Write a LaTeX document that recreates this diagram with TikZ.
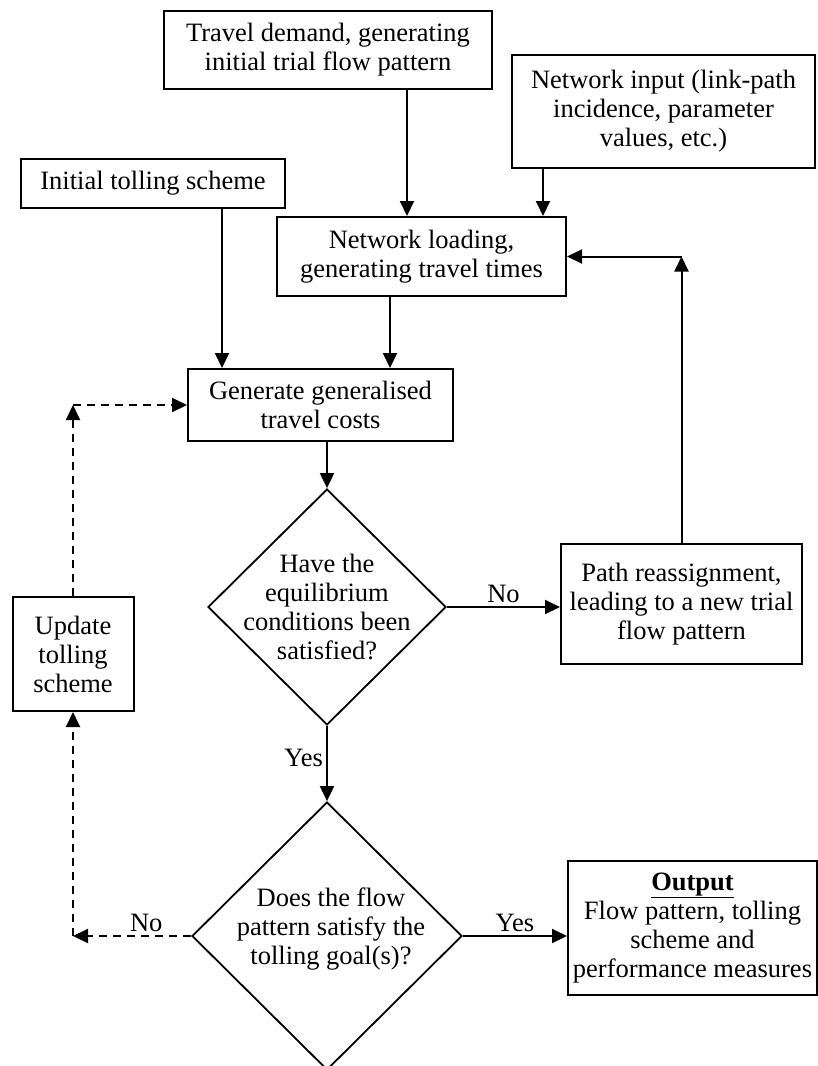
\documentclass[tikz,border=0pt]{standalone}
\usepackage{fontspec}
\setmainfont{Liberation Serif}
\usetikzlibrary{shapes.geometric,arrows.meta,calc}
\newcommand{\fsz}{\fontsize{26.5}{29}\selectfont}
\begin{document}
\begin{tikzpicture}[x=1pt,y=-1pt,
  box/.style={draw, line width=2pt, align=center, inner sep=0pt, font=\fsz},
  dia/.style={draw, shape=diamond, aspect=1, inner sep=0pt, line width=1.8pt},
  txt/.style={align=center, inner sep=0pt, font=\fsz},
  lbl/.style={font=\fsz, inner sep=3pt},
  conn/.style={line width=2pt},
  arr/.style={conn, -{Triangle[length=15pt,width=14pt]}},
  darr/.style={arr, dash pattern=on 8pt off 6pt}]
\fill[white] (0,0) rectangle (817,1066);
\useasboundingbox (0,0) rectangle (817,1066);

\node[box, minimum width=328pt, minimum height=78pt] (dem) at (328,50) {Travel demand, generating\\initial trial flow pattern};
\node[box, minimum width=303pt, minimum height=113pt] (inp) at (663.5,111.5) {Network input (link-path\\incidence, parameter\\values, etc.)};
\node[box, minimum width=264pt, minimum height=49pt] (init) at (153,183.5) {Initial tolling scheme};
\node[box, minimum width=289pt, minimum height=79pt] (load) at (421.5,256.5) {Network loading,\\generating travel times};
\node[box, minimum width=265pt, minimum height=72pt] (gen) at (320.5,405) {Generate generalised\\travel costs};
\node[dia, minimum width=238pt, minimum height=236pt] (d1) at (327,607) {};
\node[txt] (d1t) at (d1.center) {Have the\\equilibrium\\conditions been\\satisfied?};
\node[box, minimum width=241pt, minimum height=120pt] (path) at (681.5,604) {Path reassignment,\\leading to a new trial\\flow pattern};
\node[box, minimum width=121pt, minimum height=114pt] (upd) at (73,654) {Update\\tolling\\scheme};
\node[dia, minimum width=270pt, minimum height=268pt] (d2) at (327,936) {};
\node[txt] (d2t) at ($(d2.center)+(4,-7)$) {Does the flow\\pattern satisfy the\\tolling goal(s)?};
\node[box, minimum width=249pt, minimum height=134pt] (out) at (692.5,928) {\underline{\textbf{Output}}\\Flow pattern, tolling\\scheme and\\performance measures};

\coordinate (xa) at (407,0);
\coordinate (xb) at (543,0);
\coordinate (xc) at (222,0);
\coordinate (xd) at (390,0);

\draw[arr] (dem.south -| xa) -- (load.north -| xa);
\draw[arr] (inp.south -| xb) -- (load.north -| xb);
\draw[arr] (init.south -| xc) -- (gen.north -| xc);
\draw[arr] (load.south -| xd) -- (gen.north -| xd);
\draw[arr] (gen.south -| d1.north) -- (d1.north);
\draw[arr] (d1.east) -- node[lbl, above, pos=0.5] {No} (d1.east -| path.west);
\coordinate (c1) at (path.north |- load.east);
\draw[arr] (path.north) -- (c1);
\draw[arr] (c1) -- (load.east);
\draw[arr] (d1.south) -- node[lbl, left, pos=0.42] {Yes} (d2.north);
\draw[arr] (d2.east) -- node[lbl, above, pos=0.5] {Yes} (d2.east -| out.west);
\coordinate (c2) at (d2.west -| upd.south);
\draw[darr] (d2.west) -- node[lbl, above, pos=0.38] {No} (c2);
\draw[darr] (c2) -- (upd.south);
\coordinate (c3) at (upd.north |- gen.west);
\draw[darr] (upd.north) -- (c3);
\draw[darr] (c3) -- (gen.west);
\end{tikzpicture}
\end{document}
